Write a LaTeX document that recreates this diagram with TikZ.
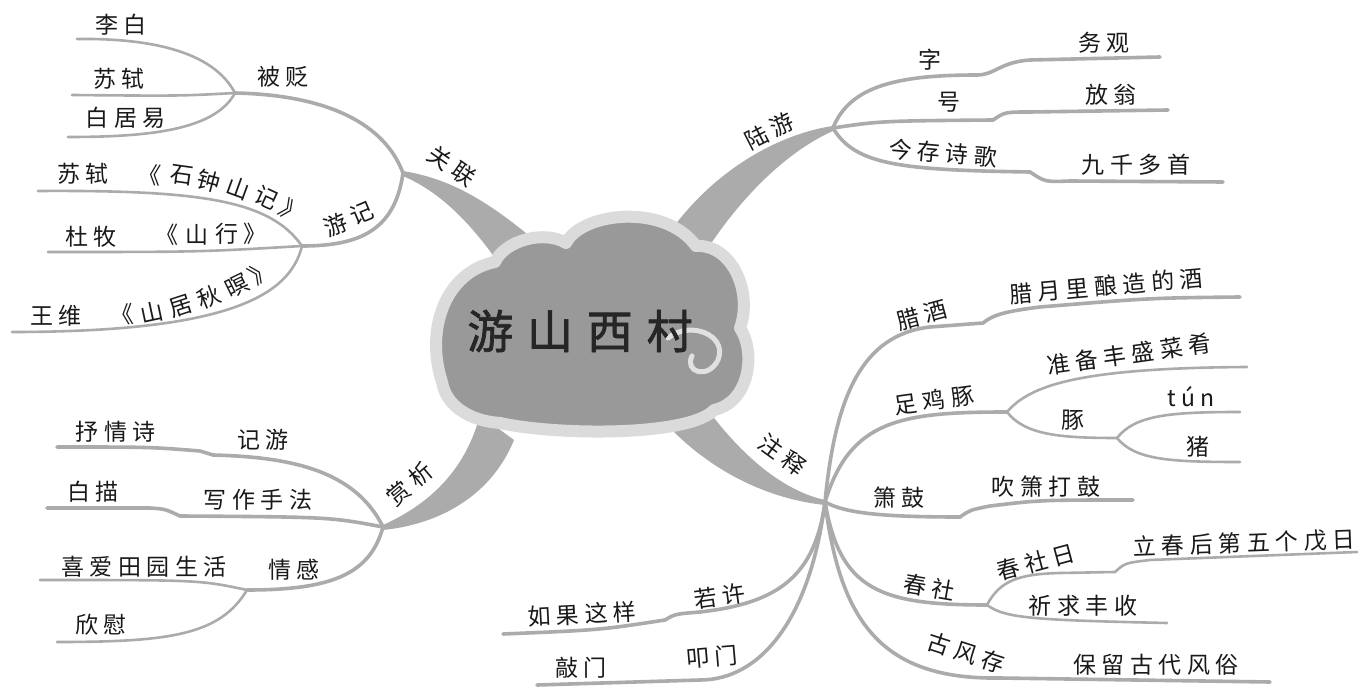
\documentclass[tikz,border=0pt]{standalone}
\usepackage{fontspec}
\setmainfont{Noto Sans CJK SC}
\newfontfamily\lblfont{Noto Sans CJK SC}[LetterSpace=24]
\newfontfamily\ttlfont{Noto Sans CJK SC}[LetterSpace=30,FakeBold=1.5]
\newfontfamily\chfont{Noto Sans CJK SC}
\begin{document}
\begin{tikzpicture}[x=1pt,y=-1pt,
  br/.style={draw=black!33, line width=3.6pt, line cap=round},
  lf/.style={draw=black!33, line width=2.6pt, line cap=round},
  band/.style={fill=black!33, draw=none},
  lbl/.style={inner sep=0pt, font=\lblfont\fontsize{23}{23}\selectfont, text=black!90},
  ch/.style={inner sep=0pt, font=\chfont\fontsize{23}{23}\selectfont, text=black!90},
  ttl/.style={inner sep=0pt, font=\ttlfont\fontsize{46}{46}\selectfont, text=black!85}]
\useasboundingbox (0,0) rectangle (1363,692);
\fill[white] (0,0) rectangle (1363,692);
% hubs
\coordinate (H1) at (403,173);
\coordinate (B) at (235,93);
\coordinate (Y) at (302,246);
\coordinate (S) at (383,527);
\coordinate (E) at (247,590);
\coordinate (L) at (833,128);
\coordinate (Z) at (825,502);
\coordinate (Zj) at (1007,412);
\coordinate (Zt) at (1117,438);
\coordinate (Zc) at (987,605);
% leaf ends
\coordinate (eLibai) at (77,39);
\coordinate (eSushi) at (72,95);
\coordinate (eBai) at (68,137);
\coordinate (eShi) at (38,191);
\coordinate (eDu) at (48,252);
\coordinate (eWang) at (12,332);
\coordinate (eShu) at (57,447);
\coordinate (eBm) at (47,508);
\coordinate (eXi) at (40,580);
\coordinate (eXin) at (57,642);
\coordinate (eWu) at (1160,57);
\coordinate (eFang) at (1168,110);
\coordinate (eJiu) at (1223,182);
\coordinate (eLa) at (1240,297);
\coordinate (eZhun) at (1247,367);
\coordinate (eTun) at (1240,412);
\coordinate (eZhu) at (1240,462);
\coordinate (eChui) at (1133,500);
\coordinate (eLi) at (1357,552);
\coordinate (eQi) at (1167,623);
\coordinate (eBao) at (1270,682);
\coordinate (eRu) at (503,634);
\coordinate (eQiao) at (537,685);
% main bands
\fill[band] (H1) ++(0,-2) .. controls (445,178) and (480,195) .. (532,238) -- (500,265) .. controls (470,222) and (440,192) .. (403,176) -- cycle;
\fill[band] (L) ++(0,-2) .. controls (790,132) and (725,160) .. (675,225) -- (708,248) .. controls (745,192) and (790,150) .. (833,131) -- cycle;
\fill[band] (S) ++(0,-2) .. controls (432,503) and (466,468) .. (480,415) -- (514,440) .. controls (492,494) and (442,524) .. (383,530) -- cycle;
\fill[band] (Z) ++(0,-2) .. controls (780,490) and (738,452) .. (702,402) -- (670,428) .. controls (713,472) and (768,499) .. (825,505) -- cycle;
% left top
\draw[br] (H1) .. controls (385,125) and (330,95) .. (B);
\draw[lf] (B) .. controls (215,55) and (160,38) .. (eLibai);
\draw[lf] (B) .. controls (180,96) .. (eSushi);
\draw[lf] (B) .. controls (215,130) and (150,137) .. (eBai);
\draw[br] (H1) .. controls (395,230) and (360,246) .. (Y);
\draw[lf] (Y) .. controls (270,200) and (200,190) .. (eShi);
\draw[lf] (Y) .. controls (200,252) .. (eDu);
\draw[lf] (Y) .. controls (290,295) and (230,332) .. (eWang);
% left bottom
\draw[br] (S) .. controls (355,470) and (290,457) .. (213,455) -- (200,451) .. controls (150,447) .. (eShu);
\draw[br] (S) .. controls (330,517) .. (180,516) .. controls (165,509) .. (150,508) -- (eBm);
\draw[br] (S) .. controls (370,575) and (330,590) .. (E);
\draw[lf] (E) .. controls (200,580) .. (eXi);
\draw[lf] (E) .. controls (220,635) and (170,642) .. (eXin);
% right top
\draw[br] (L) .. controls (850,85) and (900,75) .. (977,75) .. controls (995,75) and (1000,62) .. (1030,60) -- (eWu);
\draw[br] (L) .. controls (880,121) .. (993,120) .. controls (1005,112) .. (1030,112) -- (eFang);
\draw[br] (L) .. controls (855,165) and (900,170) .. (1030,172) .. controls (1045,182) .. (1070,181) -- (eJiu);
% right bottom
\draw[br] (Z) .. controls (835,400) and (860,335) .. (930,327) -- (983,323) .. controls (992,316) and (1000,312) .. (1040,307) .. controls (1150,298) .. (eLa);
\draw[br] (Z) .. controls (850,420) and (900,412) .. (Zj);
\draw[lf] (Zj) .. controls (1030,385) and (1080,368) .. (eZhun);
\draw[lf] (Zj) .. controls (1025,435) and (1060,438) .. (Zt);
\draw[lf] (Zt) .. controls (1135,415) and (1170,412) .. (eTun);
\draw[lf] (Zt) .. controls (1135,460) and (1170,462) .. (eZhu);
\draw[br] (Z) .. controls (845,513) and (880,517) .. (960,517) .. controls (970,510) .. (990,506) .. controls (1040,500) .. (eChui);
\draw[br] (Z) .. controls (840,590) and (880,605) .. (Zc);
\draw[lf] (Zc) .. controls (1000,580) and (1020,574) .. (1060,573) -- (1115,572) .. controls (1125,563) .. (1150,560) -- (eLi);
\draw[lf] (Zc) .. controls (1005,618) and (1030,620) .. (eQi);
\draw[br] (Z) .. controls (840,620) and (880,680) .. (1000,678) -- (eBao);
\draw[br] (Z) .. controls (815,575) and (780,603) .. (700,612) .. controls (675,614) .. (665,620) .. controls (600,630) .. (eRu);
\draw[br] (Z) .. controls (810,620) and (760,680) .. (700,680) -- (eQiao);
% cloud
\path[draw=black!14, line width=12pt, fill=black!40, line join=round]
  (442,382) .. controls (425,330) and (445,272) .. (495,262)
  .. controls (505,240) and (545,230) .. (566,243)
  .. controls (582,212) and (665,203) .. (696,246)
  .. controls (732,244) and (753,292) .. (740,328)
  .. controls (756,352) and (750,402) .. (714,410)
  .. controls (690,436) and (560,436) .. (500,423)
  .. controls (470,421) and (446,406) .. (442,382) -- cycle;
\draw[black!12, line width=5pt, line cap=round] (668,338) .. controls (690,320) and (728,335) .. (718,360) .. controls (708,380) and (684,372) .. (692,356);
\node[ttl] (title) at (580,331) {游山西村};
% main labels
\node[lbl, rotate=-35] (nGuan) at (452,166) {关联};
\node[lbl, rotate=27] (nLu) at (769,131) {陆游};
\node[lbl, rotate=40] (nShang) at (410,484) {赏析};
\node[lbl, rotate=-36] (nZhu) at (782,455) {注释};
% left top labels
\node[lbl] (nBei) at (283,77) {被贬};
\node[lbl] (nLibai) at (121,25) {李白};
\node[lbl] (nSushi) at (119,79) {苏轼};
\node[lbl] (nBai) at (126,118) {白居易};
\node[lbl, rotate=23] (nYouji) at (349,219) {游记};
\node[lbl] (nSu2) at (83,174) {苏轼};
\node[ch, rotate=-5] (s1) at (150,175) {《};
\node[ch, rotate=-8] (s2) at (182,175) {石};
\node[ch, rotate=-15] (s3) at (209,181) {钟};
\node[ch, rotate=-20] (s4) at (238,188) {山};
\node[ch, rotate=-25] (s5) at (267,198) {记};
\node[ch, rotate=-35] (s6) at (292,212) {》};
\node[lbl] (nDu) at (91,237) {杜牧};
\node[ch] (d1) at (167,235) {《};
\node[ch] (d2) at (197,235) {山};
\node[ch] (d3) at (227,234) {行};
\node[ch] (d4) at (255,234) {》};
\node[lbl] (nWang) at (56,316) {王维};
\node[ch, rotate=5] (w1) at (122,315) {《};
\node[ch, rotate=12] (w2) at (152,313) {山};
\node[ch, rotate=18] (w3) at (181,306) {居};
\node[ch, rotate=22] (w4) at (209,297) {秋};
\node[ch, rotate=26] (w5) at (237,286) {暝};
\node[ch, rotate=35] (w6) at (261,272) {》};
% left bottom labels
\node[lbl] (nJiyou) at (263,440) {记游};
\node[lbl] (nShu) at (116,432) {抒情诗};
\node[lbl] (nXiezuo) at (258,500) {写作手法};
\node[lbl] (nBm) at (93,492) {白描};
\node[lbl] (nQg) at (294,570) {情感};
\node[lbl] (nXi) at (144,567) {喜爱田园生活};
\node[lbl] (nXin) at (101,625) {欣慰};
% right top labels
\node[lbl] (nZi) at (930,60) {字};
\node[lbl] (nHao) at (949,102) {号};
\node[lbl, rotate=-5] (nJin) at (943,153) {今存诗歌};
\node[lbl] (nWu) at (1104,43) {务观};
\node[lbl] (nFang) at (1111,95) {放翁};
\node[lbl] (nJiu) at (1136,165) {九千多首};
% right bottom labels
\node[lbl, rotate=15] (nLajiu) at (922,315) {腊酒};
\node[lbl, rotate=5] (nLa) at (1106,286) {腊月里酿造的酒};
\node[lbl, rotate=8] (nZuji) at (934,400) {足鸡豚};
\node[lbl, rotate=8] (nZhun) at (1129,354) {准备丰盛菜肴};
\node[lbl] (nTun) at (1073,420) {豚};
\node[lbl] (nTunpy) at (1191,397) {tún};
\node[lbl] (nZhu2) at (1198,447) {猪};
\node[lbl] (nXiao) at (899,498) {箫鼓};
\node[lbl] (nChui) at (1046,487) {吹箫打鼓};
\node[lbl, rotate=-10] (nChun) at (929,587) {春社};
\node[lbl, rotate=15] (nChunri) at (1036,562) {春社日};
\node[lbl, rotate=2] (nLi) at (1244,543) {立春后第五个戊日};
\node[lbl] (nQi) at (1083,606) {祈求丰收};
\node[lbl, rotate=-18] (nGu) at (966,653) {古风存};
\node[lbl] (nBao) at (1156,665) {保留古代风俗};
\node[lbl, rotate=8] (nRuo) at (720,596) {若许};
\node[lbl, rotate=3] (nRu) at (582,614) {如果这样};
\node[lbl, rotate=5] (nKou) at (712,657) {叩门};
\node[lbl] (nQiao) at (581,668) {敲门};
\end{tikzpicture}
\end{document}
